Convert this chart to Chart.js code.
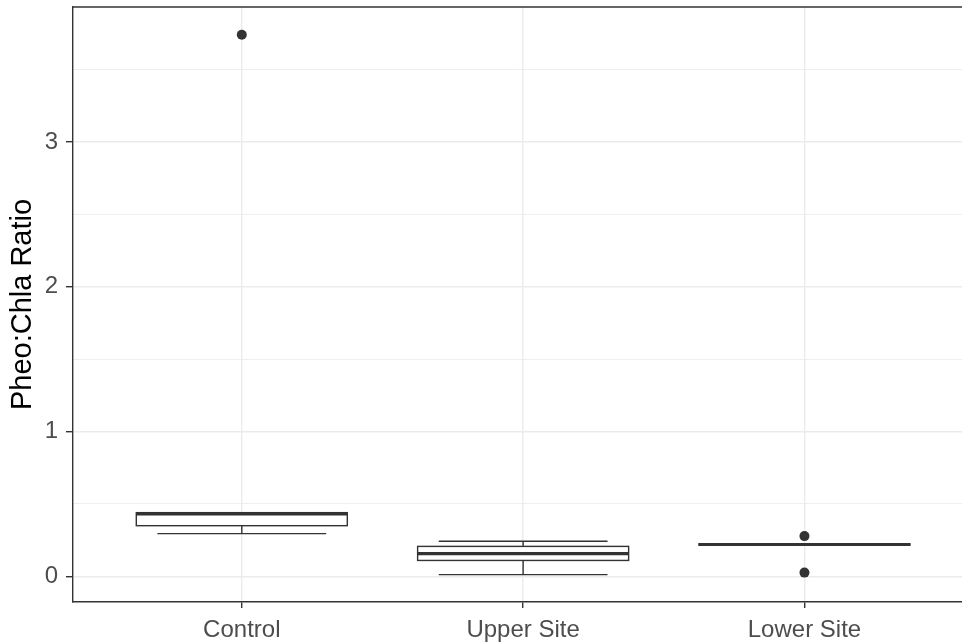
<!DOCTYPE html>
<html>
<head>
<meta charset="utf-8">
<script src="https://cdn.jsdelivr.net/npm/chart.js@4.4.1/dist/chart.umd.min.js"></script>
<style>
  html, body { margin: 0; padding: 0; background: #ffffff; }
  #wrap { width: 962px; height: 644px; }
</style>
</head>
<body>
<div id="wrap"><canvas id="chart" width="962" height="644"></canvas></div>
<script>
// ========== DONNÉES ==========
const categories = ['Control', 'Upper Site', 'Lower Site'];
const whiskerLow = [0.295, 0.012, 0.22];
const q1 = [0.35, 0.11, 0.215];
const median = [0.432, 0.157, 0.22];
const q3 = [0.44, 0.207, 0.225];
const whiskerHigh = [0.44, 0.243, 0.225];
const outliersX = [0, 2, 2];
const outliersY = [3.74, 0.278, 0.026];
const yMajor = [0, 1, 2, 3];
const yMinor = [0.5, 1.5, 2.5, 3.5];

const INK = '#333333';
const GRID = '#ebebeb';
const BOX_HALF = 0.375;
const CAP_HALF = 0.3;

// ========== BOÎTES ==========
const boxPlugin = {
    id: 'boxes',
    beforeDatasetsDraw(chart) {
        const { ctx, scales: { x, y } } = chart;
        ctx.save();
        ctx.strokeStyle = INK;
        ctx.lineCap = 'butt';
        categories.forEach((c, i) => {
            const cx = x.getPixelForValue(i);
            const bl = x.getPixelForValue(i - BOX_HALF);
            const br = x.getPixelForValue(i + BOX_HALF);
            const wl = x.getPixelForValue(i - CAP_HALF);
            const wr = x.getPixelForValue(i + CAP_HALF);
            const yLo = y.getPixelForValue(whiskerLow[i]);
            const yHi = y.getPixelForValue(whiskerHigh[i]);
            const y1 = y.getPixelForValue(q1[i]);
            const y3 = y.getPixelForValue(q3[i]);
            const ym = y.getPixelForValue(median[i]);

            // moustaches
            ctx.lineWidth = 1.4;
            ctx.beginPath();
            ctx.moveTo(cx, y1); ctx.lineTo(cx, yLo);
            ctx.moveTo(cx, y3); ctx.lineTo(cx, yHi);
            ctx.moveTo(wl, yLo); ctx.lineTo(wr, yLo);
            ctx.moveTo(wl, yHi); ctx.lineTo(wr, yHi);
            ctx.stroke();

            // boîte
            ctx.fillStyle = '#ffffff';
            ctx.fillRect(bl, y3, br - bl, y1 - y3);
            ctx.strokeRect(bl, y3, br - bl, y1 - y3);

            // médiane
            ctx.lineWidth = 3.2;
            ctx.beginPath();
            ctx.moveTo(bl, ym); ctx.lineTo(br, ym);
            ctx.stroke();
        });
        ctx.restore();
    },
    afterDraw(chart) {
        const { ctx, chartArea } = chart;
        ctx.save();
        ctx.strokeStyle = INK;
        ctx.lineWidth = 1.4;
        ctx.beginPath();
        ctx.moveTo(chartArea.left, chartArea.top);
        ctx.lineTo(chartArea.right, chartArea.top);
        ctx.stroke();
        ctx.restore();
    }
};

const isMajor = v => yMajor.includes(v);
const noPad = s => { s.paddingTop = 0; s.paddingBottom = 0; s.paddingLeft = 0; s.paddingRight = 0; };

new Chart(document.getElementById('chart'), {
    type: 'scatter',
    data: {
        datasets: [{
            data: outliersX.map((xv, i) => ({ x: xv, y: outliersY[i] })),
            pointRadius: 5,
            pointHoverRadius: 5,
            pointBackgroundColor: INK,
            pointBorderColor: INK,
            pointBorderWidth: 0
        }]
    },
    options: {
        responsive: false,
        animation: false,
        devicePixelRatio: 1,
        layout: { autoPadding: false, padding: { top: 7, right: 0, left: 0, bottom: 0 } },
        plugins: { legend: { display: false }, tooltip: { enabled: false } },
        scales: {
            x: {
                type: 'linear',
                min: -0.6,
                max: 2.56,
                afterBuildTicks: s => { s.ticks = categories.map((c, i) => ({ value: i })); },
                afterFit: s => { s.height = 42; noPad(s); },
                ticks: {
                    callback: v => categories[v],
                    color: '#4d4d4d',
                    font: { family: 'Liberation Sans, Arial', size: 24 },
                    padding: 8,
                    maxRotation: 0,
                    autoSkip: false
                },
                grid: { color: GRID, lineWidth: 1.4, tickColor: INK, tickLength: 6, tickWidth: 1.4 },
                border: { color: INK, width: 1.4 }
            },
            y: {
                type: 'linear',
                min: -0.177,
                max: 3.932,
                afterBuildTicks: s => {
                    s.ticks = yMajor.concat(yMinor).sort((a, b) => a - b).map(v => ({ value: v }));
                },
                afterFit: s => { s.width = 73; noPad(s); },
                ticks: {
                    callback: v => isMajor(v) ? String(v) : '',
                    color: '#4d4d4d',
                    font: { family: 'Liberation Sans, Arial', size: 24 },
                    padding: 8,
                    autoSkip: false
                },
                grid: {
                    color: GRID,
                    lineWidth: c => isMajor(c.tick.value) ? 1.4 : 0.8,
                    tickColor: c => isMajor(c.tick.value) ? INK : 'rgba(0,0,0,0)',
                    tickLength: 7,
                    tickWidth: 1.4
                },
                border: { color: INK, width: 1.4 },
                title: {
                    display: true,
                    text: 'Pheo:Chla Ratio',
                    color: '#000000',
                    font: { family: 'Liberation Sans, Arial', size: 29 },
                    padding: { top: 6, bottom: 0 }
                }
            }
        }
    },
    plugins: [boxPlugin]
});
</script>
</body>
</html>
